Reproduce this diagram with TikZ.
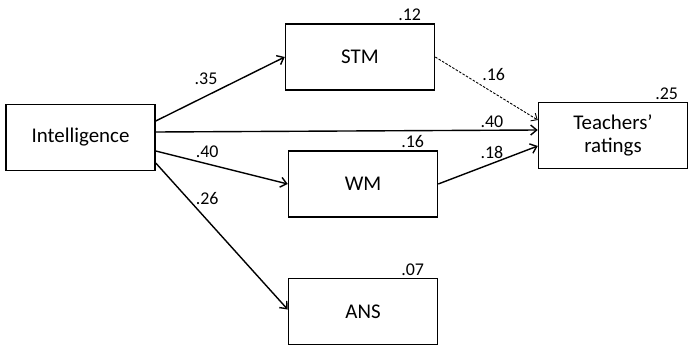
\documentclass[tikz,border=0pt]{standalone}
\usepackage{fontspec}
\setmainfont{Carlito}
\usetikzlibrary{arrows.meta,positioning}

\begin{document}
\begin{tikzpicture}[
  b/.style={draw,line width=1.5bp,minimum width=149bp,minimum height=66bp,inner sep=2pt,
    align=center,font=\fontsize{21}{23}\selectfont},
  ar/.style={-{Straight Barb[length=6bp,width=10bp]},line width=1.4bp},
  dotar/.style={-{Straight Barb[length=5bp,width=9bp]},line width=0.9bp,dash pattern=on 2.5bp off 1.5bp},
  lab/.style={font=\fontsize{18}{18}\selectfont,inner sep=1bp},
  wt/.style={anchor=south east,xshift=-13bp,yshift=1bp,inner sep=1bp,font=\fontsize{18}{18}\selectfont}]
\useasboundingbox (-80.5bp,-208.5bp) rectangle (607.5bp,137.5bp);
\node[b] (int) {Intelligence};
\node[b,right=129bp of int,yshift=80.5bp,label={[wt]north east:.12}] (stm) {STM};
\node[b,right=132bp of int,yshift=-46.5bp,label={[wt]north east:.16}] (wm) {WM};
\node[b,below=60bp of wm,label={[wt]north east:.07}] (ans) {ANS};
\node[b,right=382bp of int,yshift=2bp,label={[wt,xshift=4bp]north east:.25}] (tr) {Teachers’\\ratings};
% paths
\draw[ar] ([yshift=16.5bp]int.east) -- node[lab,pos=.39,yshift=17.5bp]{.35} (stm.west);
\draw[ar] ([yshift=5.5bp]int.east) -- node[lab,pos=.88,yshift=8.5bp]{.40} ([yshift=5.5bp]tr.west);
\draw[ar] ([yshift=-13.5bp]int.east) -- node[lab,pos=.39,yshift=12bp]{.40} (wm.west);
\draw[ar] ([yshift=-25.5bp]int.east) -- node[lab,pos=.39,yshift=22bp]{.26} ([yshift=2bp]ans.west);
\draw[dotar] (stm.east) -- node[lab,pos=.57,yshift=18bp]{.16} ([yshift=15.5bp]tr.west);
\draw[ar] (wm.east) -- node[lab,pos=.54,yshift=11.5bp]{.18} ([yshift=-10.5bp]tr.west);
\end{tikzpicture}
\end{document}
